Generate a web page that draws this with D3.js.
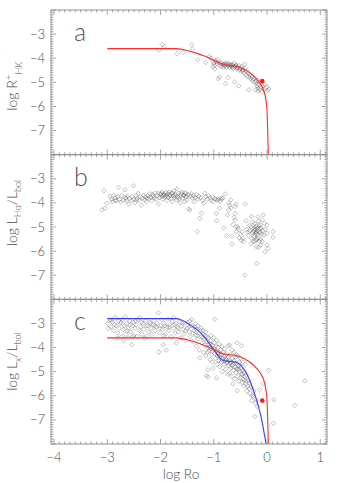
<!DOCTYPE html>
<html><head><meta charset="utf-8">
<script src="https://cdn.jsdelivr.net/npm/d3@7"></script>
<style>
html,body{margin:0;padding:0;background:#fff;}
svg{display:block;font-family:"Lato","DejaVu Sans",sans-serif;}
</style></head>
<body><div id="chart"></div>
<script>
// ---- data ----
const xTicks = [-4, -3, -2, -1, 0, 1];
const yTicks = [-3, -4, -5, -6, -7];
const panelLetters = ["a", "b", "c"];

// red model curve (panels a and c)
const redX = [-3.0, -1.7, -1.6, -1.5, -1.4, -1.3, -1.2, -1.1, -1.0, -0.9, -0.8, -0.7, -0.6, -0.5, -0.4, -0.3, -0.2, -0.12, -0.06, -0.02, 0.0, 0.01, 0.02, 0.025];
const redY = [-3.6, -3.6, -3.63, -3.68, -3.74, -3.81, -3.89, -3.98, -4.08, -4.19, -4.27, -4.3, -4.32, -4.38, -4.5, -4.64, -4.85, -5.08, -5.35, -5.75, -6.2, -6.8, -7.6, -8.2];
// blue model curve (panel c)
const blueX = [-3.0, -1.7, -1.6, -1.5, -1.4, -1.3, -1.2, -1.1, -1.0, -0.9, -0.85, -0.8, -0.7, -0.6, -0.5, -0.45, -0.4, -0.3, -0.2, -0.1, -0.05, -0.02, -0.01];
const blueY = [-2.8, -2.8, -2.87, -2.98, -3.12, -3.28, -3.5, -3.78, -4.08, -4.4, -4.5, -4.55, -4.57, -4.6, -4.72, -4.85, -5.0, -5.5, -6.15, -7.0, -7.6, -8.0, -8.2];
// red reference dots
const dotA = [-0.09, -4.95];
const dotC = [-0.09, -6.2];

// panel a: log R'HK vs log Ro
const pointsA = [
[-2.03,-3.67],[-1.97,-3.43],[-1.93,-3.53],[-1.69,-3.81],[-1.58,-3.76],[-1.41,-3.43],[-1.40,-3.62],[-1.30,-4.06],[-1.15,-4.18],[-1.08,-3.92],[-1.05,-4.0],
[-1.02,-4.12],[-1.0,-4.2],[-0.99,-4.3],[-0.98,-4.45],[-0.97,-4.1],[-0.95,-4.15],[-0.94,-4.25],[-0.93,-4.05],
[-0.9,-4.2],[-0.88,-4.3],[-0.86,-4.18],[-0.85,-4.35],[-0.83,-4.25],[-0.82,-4.4],[-0.8,-4.22],[-0.79,-4.3],[-0.77,-4.2],[-0.76,-4.38],[-0.75,-4.27],[-0.73,-4.32],[-0.72,-4.22],[-0.7,-4.4],[-0.69,-4.28],[-0.67,-4.35],[-0.66,-4.25],[-0.64,-4.3],[-0.63,-4.42],[-0.62,-4.2],[-0.6,-4.35],[-0.58,-4.28],[-0.57,-4.45],[-0.55,-4.38],[-0.53,-4.3],[-0.52,-4.5],[-0.5,-4.42],[-0.48,-4.35],[-0.47,-4.55],[-0.45,-4.48],[-0.43,-4.6],[-0.42,-4.25],[-0.41,-4.4],[-0.4,-4.68],[-0.38,-4.55],[-0.37,-4.75],[-0.35,-4.62],[-0.33,-4.8],[-0.32,-4.7],[-0.3,-4.85],[-0.28,-4.78],[-0.27,-4.92],[-0.25,-4.85],[-0.24,-5.0],[-0.22,-4.95],[-0.2,-5.05],[-0.19,-5.15],[-0.18,-4.9],[-0.17,-5.25],[-0.16,-5.1],[-0.14,-5.0],[-0.13,-5.3],[-0.12,-5.2],[-0.1,-5.4],[-0.08,-5.15],[-0.06,-5.3],[-0.04,-5.1],[0.0,-5.2],[0.01,-5.33],[0.03,-5.28],
[-0.92,-4.85],[-0.89,-4.78],[-0.78,-5.06],[-0.73,-4.8],[-0.61,-4.99],[-0.53,-5.15],[-0.34,-5.31],[-0.21,-5.31],[-0.17,-5.36],[-1.02,-4.35],
[-0.87,-4.22],[-0.81,-4.28],[-0.74,-4.25],[-0.68,-4.3],[-0.65,-4.38],[-0.59,-4.32],[-0.56,-4.4],[-0.51,-4.45],[-0.46,-4.5]
];

// panel b: log LHa/Lbol vs log Ro
const pointsB = [
[-3.1,-4.29],[-3.04,-4.22],[-3.01,-4.01],[-3.06,-3.5],
[-2.95,-3.72],[-2.92,-3.85],[-2.9,-3.95],[-2.88,-3.7],[-2.85,-3.8],[-2.83,-3.9],[-2.8,-3.75],[-2.79,-3.36],[-2.77,-3.85],[-2.75,-3.98],[-2.73,-3.7],[-2.7,-3.88],[-2.67,-3.46],[-2.66,-3.78],[-2.64,-3.92],[-2.62,-3.72],[-2.6,-4.05],[-2.58,-3.82],[-2.55,-3.9],[-2.53,-3.75],[-2.51,-3.29],[-2.5,-3.85],[-2.48,-4.0],[-2.46,-3.7],[-2.44,-3.82],[-2.42,-3.6],[-2.4,-3.9],[-2.38,-3.75],[-2.36,-4.1],[-2.34,-3.8],[-2.32,-3.68],[-2.3,-3.88],[-2.28,-3.75],[-2.26,-3.95],[-2.24,-3.7],[-2.22,-3.82],[-2.2,-3.62],[-2.18,-3.78],[-2.16,-3.9],[-2.14,-3.72],[-2.12,-3.8],[-2.1,-3.6],[-2.08,-3.85],[-2.06,-3.7],[-2.04,-4.05],[-2.02,-3.78],[-2.0,-3.65],[-1.98,-3.72],[-1.97,-3.55],[-1.96,-3.85],[-1.94,-3.62],[-1.92,-3.75],[-1.9,-3.58],[-1.89,-3.68],[-1.88,-3.9],[-1.86,-3.62],[-1.85,-3.78],[-1.84,-3.55],[-1.82,-3.7],[-1.8,-3.82],[-1.79,-3.6],[-1.78,-3.95],[-1.76,-3.7],[-1.75,-3.5],[-1.74,-3.78],[-1.72,-3.65],[-1.7,-3.88],[-1.69,-3.42],[-1.68,-3.72],[-1.66,-3.6],[-1.65,-3.85],[-1.63,-4.0],[-1.62,-3.7],[-1.6,-3.55],[-1.58,-3.8],[-1.56,-3.68],[-1.55,-3.95],[-1.53,-3.62],[-1.52,-3.75],[-1.5,-3.88],[-1.48,-3.65],[-1.47,-4.25],[-1.45,-4.3],[-1.44,-3.72],[-1.42,-3.62],[-1.4,-3.8],[-1.38,-3.7],[-1.37,-3.95],[-1.35,-3.78],[-1.33,-3.66],[-1.31,-5.19],[-1.3,-3.85],[-1.28,-3.72],[-1.26,-4.64],[-1.25,-3.78],[-1.23,-4.43],[-1.21,-3.9],[-1.19,-4.01],[-1.17,-3.6],[-1.15,-3.75],[-1.12,-3.85],[-1.1,-3.7],[-1.07,-3.8],[-1.05,-3.9],[-1.02,-3.75],[-1.01,-3.94],[-0.98,-3.82],
[-2.15,-3.65],[-2.05,-3.6],[-1.95,-3.7],[-1.87,-3.75],[-1.83,-3.65],[-1.77,-3.58],[-1.73,-3.7],[-1.67,-3.78],[-1.61,-3.62],[-1.57,-3.7],[-1.54,-3.58],[-1.5,-3.72],[-1.93,-3.68],[-1.99,-3.62],[-2.25,-3.8],[-2.45,-3.88],[-2.65,-3.82],[-2.85,-3.9],
[-0.95,-4.43],[-0.95,-4.74],[-0.93,-3.9],[-0.89,-4.22],[-0.86,-3.85],[-0.83,-3.81],[-0.81,-5.03],[-0.78,-3.63],[-0.76,-5.36],[-0.74,-4.5],[-0.72,-4.3],
[-0.66,-5.38],[-0.66,-5.71],[-0.6,-4.15],[-0.6,-4.43],[-0.6,-4.71],[-0.58,-4.99],[-0.58,-5.19],[-0.54,-5.08],[-0.7,-4.1],[-0.68,-4.2],[-0.72,-4.0],[-0.58,-4.05],[-0.62,-4.6],[-0.64,-4.9],[-0.85,-3.78],[-0.92,-3.85],[-0.88,-3.92],[-0.96,-3.85],[-0.68,-3.88],
[-0.45,-5.47],[-0.41,-4.04],[-0.42,-7.0],[-0.39,-4.74],[-0.36,-5.22],[-0.33,-4.94],[-0.29,-4.57],[-0.29,-5.47],[-0.26,-5.19],[-0.23,-4.85],[-0.23,-5.33],[-0.21,-5.54],[-0.2,-5.82],[-0.19,-6.51],[-0.17,-4.57],[-0.14,-5.06],[-0.12,-5.75],[-0.07,-4.5],[-0.06,-5.33],[0,-4.92],[0,-5.75],[0.0,-5.26],[0.02,-5.89],[-0.04,-6.03],[0.11,-5.19],[0.11,-5.43],
[-0.38,-5.1],[-0.35,-5.35],[-0.32,-5.15],[-0.3,-5.0],[-0.28,-5.25],[-0.27,-4.8],[-0.25,-5.05],[-0.24,-5.4],[-0.22,-5.1],[-0.21,-5.25],[-0.2,-4.95],[-0.19,-5.3],[-0.18,-5.15],[-0.17,-5.45],[-0.16,-4.75],[-0.15,-5.2],[-0.14,-5.6],[-0.13,-4.9],[-0.11,-5.05],[-0.1,-5.3],[-0.09,-4.7],[-0.08,-5.15],[-0.05,-4.85],[-0.03,-5.1],[-0.5,-5.3],[-0.48,-5.55],[-0.55,-5.0],[-0.52,-5.45],[-0.44,-5.6],[-0.47,-5.2],[-0.12,-5.5],[-0.26,-5.6],[-0.3,-5.7],[-0.16,-5.85],[-0.09,-5.6],
[-0.22,-5.0],[-0.18,-5.05],[-0.15,-4.95],[-0.2,-5.2],[-0.24,-5.15],[-0.13,-5.25],[-0.19,-5.5],[-0.23,-5.6]
];

// panel c: log Lx/Lbol vs log Ro
const pointsC = [
[-3.0,-3.0],[-2.95,-2.85],[-2.93,-3.15],[-2.9,-2.95],[-2.88,-3.3],[-2.85,-2.75],[-2.83,-3.1],[-2.8,-3.4],[-2.79,-2.9],[-2.77,-3.2],[-2.75,-3.0],[-2.73,-3.55],[-2.71,-2.85],[-2.7,-3.25],[-2.68,-3.1],[-2.66,-2.72],[-2.65,-3.45],[-2.63,-3.0],[-2.61,-3.2],[-2.6,-3.6],[-2.58,-2.9],[-2.56,-3.35],[-2.54,-3.88],[-2.53,-3.1],[-2.51,-2.95],[-2.5,-3.5],[-2.48,-3.2],[-2.46,-3.05],[-2.44,-3.53],[-2.42,-2.85],[-2.4,-3.3],[-2.39,-2.76],[-2.37,-3.15],[-2.35,-3.45],[-2.33,-3.0],[-2.31,-3.25],[-2.3,-3.6],[-2.28,-2.9],[-2.26,-3.53],[-2.24,-3.1],[-2.22,-3.35],[-2.2,-2.95],[-2.18,-3.2],[-2.16,-3.45],[-2.14,-3.05],[-2.12,-2.88],[-2.1,-3.3],[-2.08,-3.15],[-2.06,-3.0],[-2.04,-2.56],[-2.03,-4.19],[-2.02,-3.4],[-2.0,-3.1],[-1.98,-2.85],[-1.96,-3.25],[-1.95,-3.88],[-1.93,-3.0],[-1.91,-3.45],[-1.89,-4.11],[-1.88,-3.15],[-1.86,-2.83],[-1.84,-3.3],[-1.82,-3.05],[-1.8,-3.55],[-1.78,-2.9],[-1.76,-2.76],[-1.75,-3.2],[-1.73,-3.4],[-1.71,-3.0],[-1.7,-3.81],[-1.68,-3.15],[-1.66,-3.35],[-1.64,-2.95],[-1.62,-3.6],[-1.6,-3.1],[-1.58,-3.25],[-1.56,-3.45],[-1.54,-3.0],[-1.52,-3.7],[-1.5,-3.2],[-1.48,-2.95],[-1.46,-3.35],[-1.44,-3.55],[-1.42,-3.1],[-1.41,-2.83],[-1.4,-3.75],[-1.38,-3.3],[-1.36,-3.15],[-1.34,-3.5],[-1.33,-3.94],[-1.32,-3.25],[-1.3,-3.65],[-1.28,-3.4],[-1.27,-4.1],[-1.26,-4.43],[-1.25,-3.3],[-1.23,-3.55],[-1.22,-3.8],[-1.2,-3.45],[-1.19,-4.2],[-1.18,-3.65],[-1.17,-3.9],[-1.16,-3.5],[-1.15,-4.35],[-1.14,-5.17],[-1.13,-3.75],[-1.12,-4.0],[-1.11,-5.22],[-1.11,-4.92],[-1.1,-3.6],[-1.09,-4.15],[-1.08,-3.85],[-1.07,-4.5],[-1.06,-3.7],[-1.05,-4.05],[-1.04,-4.3],[-1.03,-3.9],[-1.02,-4.6],[-1.01,-4.85],[-1.0,-4.1],[-0.99,-3.8],[-0.98,-2.83],[-0.98,-4.25],[-0.97,-4.45],[-0.96,-3.95],[-0.95,-5.26],[-0.95,-4.15],[-0.94,-4.7],[-0.93,-4.35],[-0.92,-4.0],[-0.91,-4.55],[-0.9,-4.2],[-0.89,-4.8],[-0.88,-4.4],[-0.87,-4.1],[-0.86,-4.6],[-0.85,-4.3],[-0.84,-5.0],[-0.83,-4.45],[-0.82,-4.2],[-0.81,-4.7],[-0.8,-4.35],[-0.79,-4.55],[-0.78,-4.9],[-0.77,-4.25],[-0.76,-4.5],[-0.75,-4.65],[-0.74,-5.1],[-0.73,-3.92],[-0.73,-4.4],[-0.72,-4.75],[-0.71,-4.55],[-0.7,-5.06],[-0.69,-4.3],[-0.68,-4.85],[-0.67,-4.6],[-0.66,-5.2],[-0.65,-4.45],[-0.64,-5.5],[-0.64,-4.7],[-0.63,-4.95],[-0.62,-4.55],[-0.61,-5.3],[-0.6,-4.8],[-0.59,-4.4],[-0.58,-5.05],[-0.57,-4.65],[-0.56,-3.81],[-0.56,-5.79],[-0.56,-4.9],[-0.55,-5.2],[-0.54,-4.75],[-0.53,-5.4],[-0.52,-4.6],[-0.51,-5.0],[-0.5,-5.25],[-0.49,-4.85],[-0.48,-3.92],[-0.48,-5.1],[-0.47,-5.45],[-0.46,-4.95],[-0.45,-5.3],[-0.44,-5.6],[-0.43,-5.05],[-0.42,-5.35],[-0.41,-4.7],[-0.4,-5.5],[-0.39,-5.15],[-0.38,-5.8],[-0.36,-5.61],[-0.35,-5.35],[-0.33,-5.47],[-0.32,-5.9],[-0.3,-5.65],[-0.28,-6.0],[-0.26,-6.03],[-0.25,-5.8],[-0.23,-6.86],[-0.22,-6.3],[-0.2,-6.17],[-0.18,-6.45],[-0.14,-5.75],[-0.07,-5.5],[0.03,-4.94],[0.13,-6.17],[0.12,-7.14],[0.52,-6.4],[0.71,-5.38],
[-1.45,-2.9],[-1.35,-3.0],[-1.3,-3.1],[-1.24,-3.2],[-1.2,-3.3],[-1.15,-3.35],[-1.05,-3.5],[-1.0,-3.6],[-0.95,-3.7],[-0.9,-3.85],[-0.85,-3.95],[-0.8,-4.05],[-0.7,-3.9],[-0.66,-4.1],[-0.62,-4.2],[-0.58,-4.3],[-0.55,-4.35],[-0.5,-4.45],[-0.45,-4.6],
[-2.98,-3.2],[-2.92,-2.9],[-2.86,-3.05],[-2.74,-2.95],[-2.62,-3.3],[-2.57,-3.05],[-2.47,-2.9],[-2.36,-2.95],[-2.27,-3.1],[-2.19,-3.0],[-2.11,-3.1],[-2.01,-3.2],[-1.92,-3.1],[-1.83,-3.15],[-1.74,-3.05],[-1.67,-3.2],[-1.59,-3.0],[-1.53,-3.3],[-1.47,-3.15],[-1.39,-3.4],[-1.31,-3.5],[-1.21,-3.6],[-1.13,-3.55],[-1.06,-3.85],[-1.94,-3.5],[-2.52,-3.55],[-2.81,-3.6],[-2.69,-3.7],
[-1.12,-4.2],[-1.08,-4.0],[-1.03,-4.15],[-0.99,-4.05],[-0.93,-4.25],[-0.88,-4.3],[-0.83,-4.55],[-0.78,-4.45],[-0.74,-4.6],[-0.69,-4.65],[-0.66,-4.75],[-0.61,-4.65],[-0.57,-4.85],[-0.53,-4.9],[-0.5,-4.75],[-0.46,-5.1],[-0.42,-5.2],[-0.39,-5.4],[-0.34,-5.7],[-0.29,-6.2]
];

// ---- layout ----
const W = 345, H = 483;
const L = 51, R = 327, T = 10, B = 444;
const ph = (B - T) / 3;
const txtCol = "#4a4a4a", frameCol = "#909090";

const svg = d3.select("#chart").append("svg").attr("width", W).attr("height", H);

const x = d3.scaleLinear().domain([-4.056, 1.126]).range([L, R]);

const panels = [
  {pts: pointsA, curves: [{xs: redX, ys: redY, c: "#ff2a2a"}], dot: dotA},
  {pts: pointsB, curves: [], dot: null},
  {pts: pointsC, curves: [{xs: blueX, ys: blueY, c: "#3a3aff"}, {xs: redX, ys: redY, c: "#ff2a2a"}], dot: dotC}
];

const diamond = "M0,-2.2L2.2,0L0,2.2L-2.2,0Z";

panels.forEach((p, i) => {
  const top = T + i * ph, bot = top + ph;
  const y = d3.scaleLinear().domain([-8, -2]).range([bot, top]);
  const g = svg.append("g");
  const cid = "clip" + i;
  svg.append("clipPath").attr("id", cid).append("rect").attr("x", L).attr("y", top).attr("width", R - L).attr("height", ph);

  // scatter
  g.append("g").selectAll("path").data(p.pts).join("path")
    .attr("d", diamond)
    .attr("transform", d => `translate(${x(d[0])},${y(d[1])})`)
    .attr("fill", "none").attr("stroke", "#3c3c3c").attr("stroke-opacity", 0.45).attr("stroke-width", 0.7);

  // curves
  p.curves.forEach(cv => {
    const data = cv.xs.map((v, k) => [v, cv.ys[k]]);
    g.append("path").datum(data)
      .attr("clip-path", `url(#${cid})`)
      .attr("d", d3.line().x(d => x(d[0])).y(d => y(d[1])).curve(d3.curveMonotoneX))
      .attr("fill", "none").attr("stroke", cv.c).attr("stroke-width", 1.1);
  });
  if (p.dot) {
    g.append("circle").attr("cx", x(p.dot[0])).attr("cy", y(p.dot[1])).attr("r", 2.3).attr("fill", "#ff1a1a");
  }

  // frame
  g.append("rect").attr("x", L).attr("y", top).attr("width", R - L).attr("height", ph)
    .attr("fill", "none").attr("stroke", frameCol).attr("stroke-width", 1);

  // y ticks (minor every 0.1, major every 1) on both sides, inward
  const yt = d3.range(-80, -19).map(v => v / 10);
  const tg = g.append("g").attr("stroke", frameCol).attr("stroke-width", 0.8);
  yt.forEach(v => {
    const major = Math.abs(v - Math.round(v)) < 1e-6;
    const len = major ? 5 : 2.5;
    const yy = y(v);
    tg.append("line").attr("x1", L).attr("x2", L + len).attr("y1", yy).attr("y2", yy);
    tg.append("line").attr("x1", R).attr("x2", R - len).attr("y1", yy).attr("y2", yy);
  });
  // x ticks top & bottom
  const xt = d3.range(-40, 12).map(v => v / 10);
  xt.forEach(v => {
    const major = Math.abs(v - Math.round(v)) < 1e-6;
    const len = major ? 5 : 2.5;
    const xx = x(v);
    tg.append("line").attr("x1", xx).attr("x2", xx).attr("y1", bot).attr("y2", bot - len);
    tg.append("line").attr("x1", xx).attr("x2", xx).attr("y1", top).attr("y2", top + len);
  });

  // y tick labels
  g.append("g").selectAll("text").data(yTicks).join("text")
    .attr("x", 45).attr("y", d => y(d) + 4.5)
    .attr("text-anchor", "end").attr("font-size", 13).attr("font-weight", 300).attr("fill", txtCol)
    .text(d => "\u2212" + Math.abs(d));

  // panel letter
  g.append("text").attr("x", 74).attr("y", y(-3) + 7)
    .attr("font-size", 25).attr("font-weight", 300).attr("fill", "#555")
    .text(panelLetters[i]);
});

// y axis titles
function ytitle(cy, parts) {
  const t = svg.append("text")
    .attr("transform", `translate(17,${cy}) rotate(-90)`)
    .attr("text-anchor", "middle").attr("font-size", 14).attr("font-weight", 300).attr("fill", txtCol);
  parts.forEach(pt => {
    const ts = t.append("tspan").text(pt[0]);
    if (pt[1]) ts.attr("font-size", pt[2] || 10).attr("dy", pt[1]);
  });
}
ytitle(T + ph * 0.5 + 4, [["log R"], ["+", -5, 10], ["HK", 10, 9]]);
ytitle(T + ph * 1.5 - 14, [["log L"], ["H\u03b1", 4, 9], ["/", -4, 14], ["L"], ["bol", 4, 9]]);
ytitle(T + ph * 2.5 - 10, [["log L"], ["x", 4, 9], ["/", -4, 14], ["L"], ["bol", 4, 9]]);

// x tick labels (bottom panel)
svg.append("g").selectAll("text").data(xTicks).join("text")
  .attr("x", d => x(d)).attr("y", 462)
  .attr("text-anchor", "middle").attr("font-size", 13).attr("font-weight", 300).attr("fill", txtCol)
  .text(d => d < 0 ? "\u2212" + Math.abs(d) : String(d));

// x axis title
svg.append("text").attr("x", 181).attr("y", 479)
  .attr("text-anchor", "middle").attr("font-size", 13.5).attr("font-weight", 300).attr("fill", txtCol)
  .text("log Ro");
</script></body></html>
